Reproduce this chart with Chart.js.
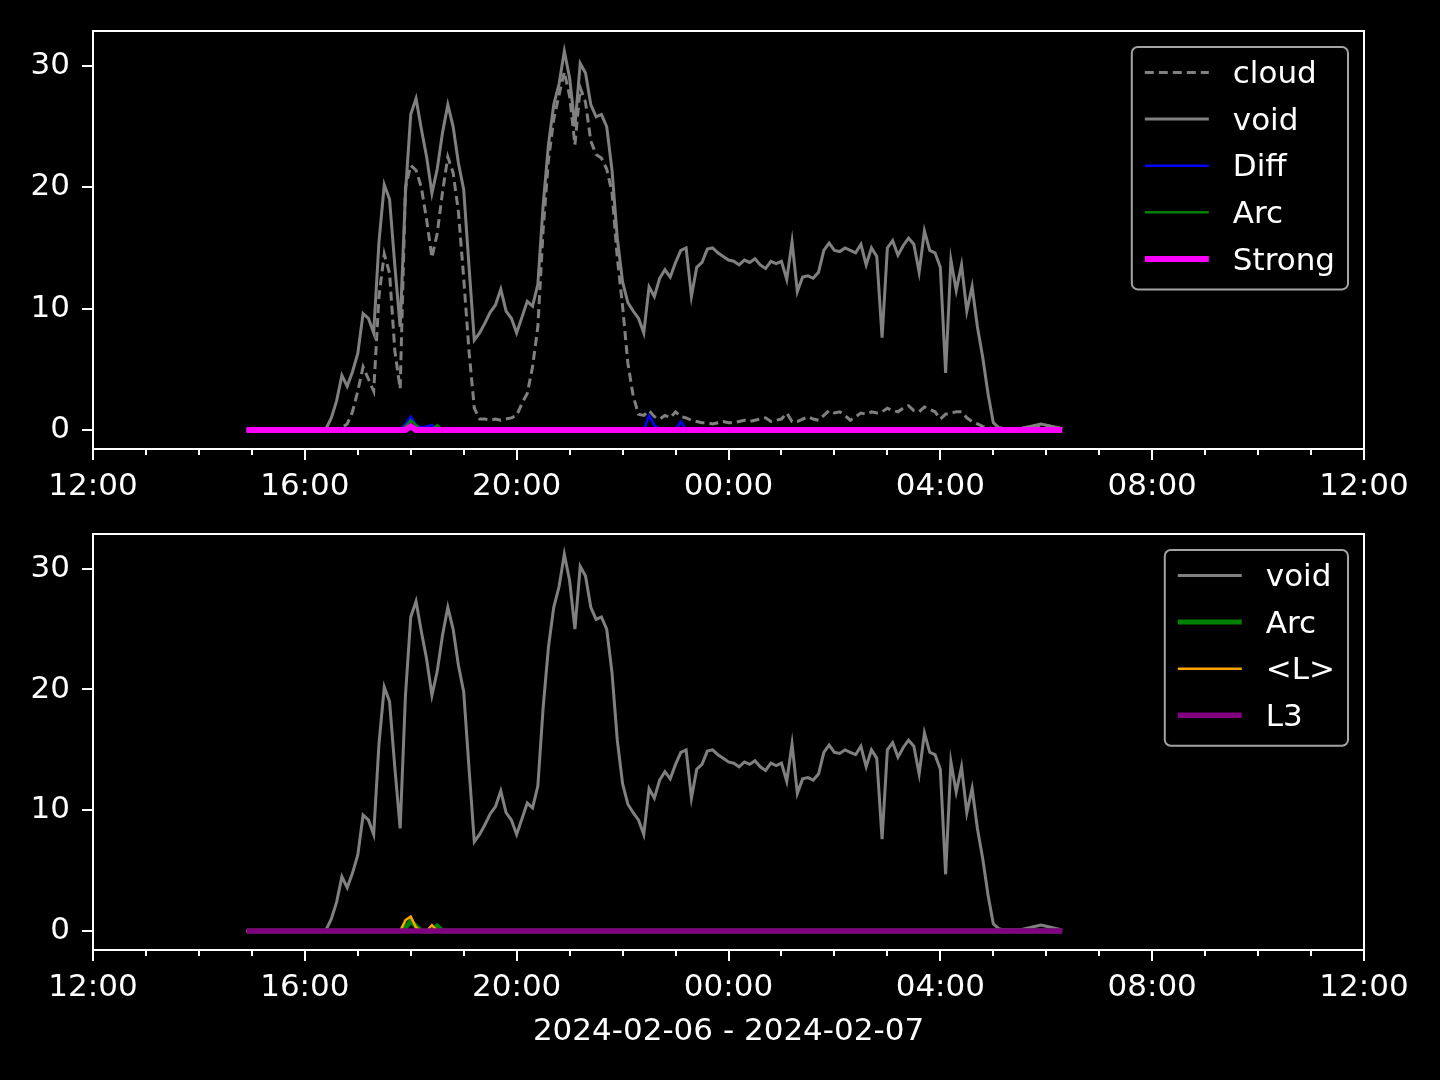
<!DOCTYPE html>
<html>
<head>
<meta charset="utf-8">
<script src="https://cdn.jsdelivr.net/npm/chart.js@4.4.1/dist/chart.umd.min.js"></script>
<style>
  html, body { margin: 0; padding: 0; background: #000; }
  #wrap { position: relative; width: 1440px; height: 1080px; }
  canvas { position: absolute; left: 0; }
  #top { top: 0; }
  #bottom { top: 520px; }
</style>
</head>
<body>
<div id="wrap">
  <canvas id="top" width="1440" height="520"></canvas>
  <canvas id="bottom" width="1440" height="560"></canvas>
</div>
<script>
// x values are hours after 2024-02-06 12:00
const X_MIN = 0;
const X_MAX = 24;
const xTicks = [0, 4, 8, 12, 16, 20, 24];
const yTicks = [0, 10, 20, 30];
const Y_MIN = -1.566;
const Y_MAX = 32.87;
const FONT = '"DejaVu Sans", sans-serif';

// void / cloud are sampled every 6 minutes from 14:54 on
const T0 = 2.9;
const DT = 0.1;

const voidVals = [
  0, 0, 0, 0, 0, 0, 0, 0, 0, 0,
  0, 0, 0, 0, 0, 0.1, 1.0, 2.4, 4.5, 3.6,
  4.8, 6.3, 9.6, 9.2, 8.0, 15.5, 20.2, 19.0, 13.5, 8.5,
  19.5, 26.0, 27.3, 24.8, 22.5, 19.5, 21.5, 24.5, 26.8, 25.0,
  22.0, 19.8, 13.5, 7.4, 8.0, 8.8, 9.7, 10.3, 11.6, 9.8,
  9.2, 8.0, 9.3, 10.6, 10.2, 12.0, 18.5, 23.5, 26.8, 28.5,
  31.2, 29.0, 25.0, 30.2, 29.4, 26.8, 25.8, 26.0, 25.0, 21.4,
  15.8, 12.2, 10.5, 9.8, 9.2, 8.0, 11.8, 11.0, 12.5, 13.2,
  12.6, 13.8, 14.8, 15.0, 11.0, 13.4, 13.8, 14.9, 15.0, 14.6,
  14.3, 14.0, 13.9, 13.6, 14.0, 13.8, 14.1, 13.6, 13.3, 13.9,
  13.7, 13.9, 12.4, 15.5, 11.4, 12.6, 12.7, 12.5, 13.0, 14.8,
  15.4, 14.8, 14.7, 15.0, 14.8, 14.6, 15.3, 13.6, 15.0, 14.3,
  7.6, 15.0, 15.6, 14.4, 15.2, 15.8, 15.3, 13.0, 16.4, 14.8,
  14.6, 13.4, 4.7, 14.0, 11.5, 13.6, 9.8, 11.8, 8.5, 6.0,
  3.0, 0.6, 0.2, 0.1, 0.1, 0.1, 0.1, 0.2, 0.3, 0.4,
  0.5, 0.4, 0.3, 0.2, 0.1
];

const cloudVals = [
  0, 0, 0, 0, 0, 0, 0, 0, 0, 0,
  0, 0, 0, 0, 0, 0.1, 0.1, 0.1, 0.2, 0.5,
  1.5, 3.2, 5.2, 4.2, 3.2, 11.0, 14.5, 12.9, 6.5, 3.4,
  20.0, 21.8, 21.4, 20.0, 17.3, 14.2, 16.2, 19.6, 22.5, 21.2,
  18.0, 12.5, 6.5, 1.8, 0.9, 0.9, 0.8, 0.9, 0.8, 0.9,
  1.0, 1.2, 2.2, 3.0, 5.2, 8.5, 16.5, 22.2, 25.6, 27.6,
  29.5, 27.5, 23.5, 28.2, 27.0, 23.8, 22.7, 22.4, 21.5, 19.6,
  14.2, 10.2, 5.5, 2.8, 1.3, 1.2, 1.6, 1.1, 0.9, 1.2,
  1.0, 1.5, 1.1, 1.0, 0.8, 0.7, 0.6, 0.6, 0.5, 0.6,
  0.7, 0.6, 0.6, 0.7, 0.8, 0.7, 0.8, 0.9, 1.0, 0.7,
  0.8, 0.9, 1.4, 0.7, 0.7, 0.9, 1.1, 0.9, 0.8, 1.2,
  1.6, 1.4, 1.5, 1.2, 0.8, 1.1, 1.4, 1.3, 1.5, 1.4,
  1.5, 1.8, 1.6, 1.5, 1.8, 2.0, 1.6, 1.5, 1.9, 1.7,
  1.5, 0.9, 1.3, 1.4, 1.5, 1.5, 1.0, 0.7, 0.5, 0.3,
  0.2, 0.1, 0.1, 0.1, 0.1, 0.1, 0.1, 0.1, 0.2, 0.3,
  0.4, 0.4, 0.3, 0.2, 0.1
];

// sparse series: only the points where something happens, rest sits on 0
const diffTimes = [2.9, 5.8, 5.9, 6.0, 6.1, 6.2, 6.3, 6.4, 6.5, 10.4, 10.5, 10.6, 10.7, 11.0, 11.1, 11.2, 18.3];
const diffVals = [0, 0, 0.5, 1.1, 0.4, 0.2, 0.3, 0.4, 0, 0, 1.2, 0.4, 0, 0, 0.7, 0, 0];

const arcTimes = [2.9, 5.8, 5.9, 6.0, 6.1, 6.2, 6.4, 6.5, 6.6, 18.3];
const arcVals = [0, 0, 0.3, 0.8, 0.4, 0, 0, 0.4, 0, 0];

const strongTimes = [2.9, 5.9, 6.0, 6.1, 18.3];
const strongVals = [0, 0, 0.3, 0, 0];

const meanLTimes = [2.9, 5.8, 5.9, 6.0, 6.1, 6.2, 6.3, 6.4, 6.5, 18.3];
const meanLVals = [0, 0, 0.9, 1.2, 0.3, 0, 0, 0.5, 0, 0];

const l3Times = [2.9, 18.3];
const l3Vals = [0, 0];

const times = voidVals.map((_, i) => +(T0 + i * DT).toFixed(2));
const pts = (xs, ys) => xs.map((x, i) => ({x, y: ys[i]}));

const hourLabel = (v) => {
  const h = (12 + v) % 24;
  return `${String(h).padStart(2, `0`)}:00`;
};

// frame + major/minor tick marks like matplotlib
const axisDecor = {
  id: `axisDecor`,
  afterDatasetsDraw(chart) {
    const {ctx, chartArea: a, scales: {x, y}} = chart;
    ctx.save();
    ctx.strokeStyle = `#ffffff`;
    ctx.lineWidth = 2;
    ctx.strokeRect(a.left, a.top, a.right - a.left, a.bottom - a.top);
    ctx.beginPath();
    for (let h = X_MIN; h <= X_MAX; h++) {
      const px = Math.round(x.getPixelForValue(h));
      const len = h % 4 === 0 ? 11 : 6;
      ctx.moveTo(px, a.bottom);
      ctx.lineTo(px, a.bottom + len);
    }
    yTicks.forEach((v) => {
      const py = Math.round(y.getPixelForValue(v));
      ctx.moveTo(a.left, py);
      ctx.lineTo(a.left - 11, py);
    });
    ctx.stroke();
    ctx.restore();
  }
};

const mplLegend = {
  id: `mplLegend`,
  afterDraw(chart) {
    const {ctx, chartArea: a} = chart;
    const items = chart.data.datasets;
    ctx.save();
    ctx.font = `31px ${FONT}`;
    const textW = Math.max(...items.map((d) => ctx.measureText(d.label).width));
    const w = 13 + 64 + 24 + textW + 13;
    const h = 25.5 + (items.length - 1) * 46.6 + 30.5;
    const x0 = a.right - 16 - w;
    const y0 = a.top + 16;
    ctx.beginPath();
    ctx.roundRect(x0, y0, w, h, 6);
    ctx.fillStyle = `rgba(0,0,0,0.8)`;
    ctx.fill();
    ctx.lineWidth = 2;
    ctx.strokeStyle = `#a3a3a3`;
    ctx.stroke();
    items.forEach((d, i) => {
      const yy = y0 + 25.5 + i * 46.6;
      ctx.beginPath();
      ctx.setLineDash(d.borderDash || []);
      ctx.strokeStyle = d.borderColor;
      ctx.lineWidth = d.borderWidth;
      ctx.moveTo(x0 + 13, yy);
      ctx.lineTo(x0 + 77, yy);
      ctx.stroke();
      ctx.setLineDash([]);
      ctx.fillStyle = `#ffffff`;
      ctx.textBaseline = `alphabetic`;
      ctx.textAlign = `left`;
      ctx.fillText(d.label, x0 + 101, yy + 10.6);
    });
    ctx.restore();
  }
};

const noScalePadding = (s) => {
  s.paddingTop = 0;
  s.paddingBottom = 0;
  s.paddingLeft = 0;
  s.paddingRight = 0;
};

const makeOptions = (padTop, xAxisHeight, xTitle) => ({
  responsive: false,
  animation: false,
  devicePixelRatio: 1,
  layout: {padding: {left: 0, right: 76, top: padTop, bottom: 0}},
  elements: {point: {radius: 0}, line: {tension: 0}},
  plugins: {
    legend: {display: false},
    tooltip: {enabled: false},
  },
  scales: {
    x: {
      type: `linear`,
      min: X_MIN,
      max: X_MAX,
      afterBuildTicks: (s) => {
        s.ticks = xTicks.map((v) => ({value: v}));
      },
      afterFit: (s) => {
        s.height = xAxisHeight;
        noScalePadding(s);
      },
      grid: {display: false, drawTicks: false},
      border: {display: false},
      ticks: {
        color: `#ffffff`,
        font: {family: FONT, size: 31},
        padding: 19,
        maxRotation: 0,
        autoSkip: false,
        callback: hourLabel,
      },
      title: {
        display: !!xTitle,
        text: xTitle || ``,
        color: `#ffffff`,
        font: {family: FONT, size: 31},
        padding: {top: 0, bottom: 29},
      },
    },
    y: {
      min: Y_MIN,
      max: Y_MAX,
      afterBuildTicks: (s) => {
        s.ticks = yTicks.map((v) => ({value: v}));
      },
      afterFit: (s) => {
        s.width = 93;
        noScalePadding(s);
      },
      grid: {display: false, drawTicks: false},
      border: {display: false},
      ticks: {
        color: `#ffffff`,
        font: {family: FONT, size: 31},
        padding: 23,
      },
    },
  },
});

new Chart(document.getElementById(`top`), {
  type: `line`,
  plugins: [axisDecor, mplLegend],
  data: {
    datasets: [
      {label: `cloud`, data: pts(times, cloudVals), borderColor: `#808080`, borderWidth: 3, borderDash: [9, 5], order: 5},
      {label: `void`, data: pts(times, voidVals), borderColor: `#808080`, borderWidth: 3, order: 4},
      {label: `Diff`, data: pts(diffTimes, diffVals), borderColor: `#0000ff`, borderWidth: 2.5, order: 3},
      {label: `Arc`, data: pts(arcTimes, arcVals), borderColor: `#008000`, borderWidth: 2.5, order: 2},
      {label: `Strong`, data: pts(strongTimes, strongVals), borderColor: `#ff00ff`, borderWidth: 6, order: 1},
    ]
  },
  options: makeOptions(31, 71, null)
});

new Chart(document.getElementById(`bottom`), {
  type: `line`,
  plugins: [axisDecor, mplLegend],
  data: {
    datasets: [
      {label: `void`, data: pts(times, voidVals), borderColor: `#808080`, borderWidth: 3, order: 4},
      {label: `Arc`, data: pts(arcTimes, arcVals), borderColor: `#008000`, borderWidth: 5, order: 3},
      {label: `<L>`, data: pts(meanLTimes, meanLVals), borderColor: `#ffa500`, borderWidth: 2.5, order: 2},
      {label: `L3`, data: pts(l3Times, l3Vals), borderColor: `#800080`, borderWidth: 5.5, order: 1},
    ]
  },
  options: makeOptions(14, 130, `2024-02-06 - 2024-02-07`)
});
</script>
</body>
</html>
